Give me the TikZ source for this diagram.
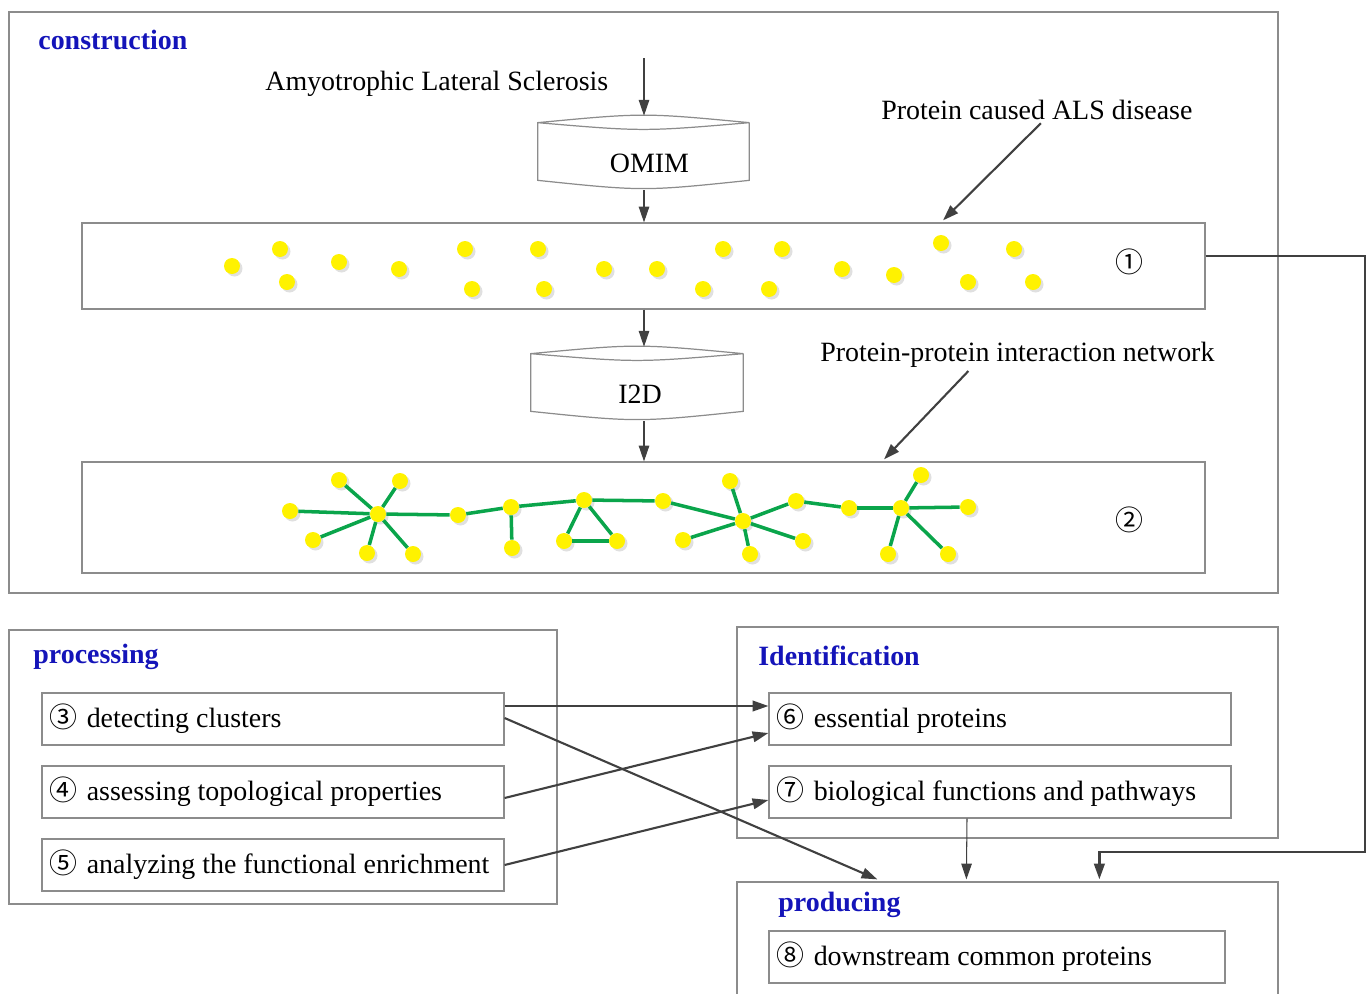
\documentclass[tikz,border=0pt]{standalone}
\usepackage{fontspec}
\setmainfont{Liberation Serif}
\newfontfamily\cjkfont{Noto Sans CJK SC}
\usepackage{tikz}
\usetikzlibrary{positioning,calc,fit,shadows,arrows.meta}

\definecolor{framegray}{RGB}{140,140,140}
\definecolor{arrowgray}{RGB}{64,64,64}
\definecolor{titleblue}{RGB}{20,20,185}
\definecolor{edgegreen}{RGB}{10,165,75}

\newcommand\figfont{\fontsize{15.9}{19}\selectfont}
\newcommand\cnum[1]{\spaceskip=0pt\xspaceskip=0pt{\cjkfont #1}\hspace{0.35em}}
% database drum drawn round an empty node
\newcommand\drawdrum[1]{%
  \draw[frame] ($(#1.north west)+(0,7)$) .. controls ($(#1.north)+(0,-3)$) .. ($(#1.north east)+(0,7)$)
    .. controls ($(#1.north)+(0,16)$) .. ($(#1.north west)+(0,7)$)
    -- ($(#1.south west)+(0,-10)$) .. controls ($(#1.south)+(0,1)$) .. ($(#1.south east)+(0,-10)$)
    -- ($(#1.north east)+(0,7)$);}

\begin{document}
\begin{tikzpicture}[x=0.02cm, y=-0.02cm, font=\figfont,
    frame/.style={draw=framegray, line width=0.7pt},
    panel/.style={frame, inner sep=0pt},
    title/.style={anchor=west, inner sep=0pt, text=titleblue, font=\figfont\bfseries},
    note/.style={anchor=west, inner sep=0pt},
    cjk/.style={font=\figfont\cjkfont},
    drum/.style={minimum width=4.22cm, minimum height=1.48cm, inner sep=0pt},
    stepbox/.style={frame, text width=8.96cm, inner xsep=0.14cm, minimum height=1.04cm, align=left},
    dot/.style={circle, fill=yellow, inner sep=0pt, minimum size=0.32cm,
      drop shadow={shadow xshift=0.05cm, shadow yshift=-0.05cm, fill=black!12, opacity=1}},
    link/.style={draw=edgegreen, line width=2pt},
    flow/.style={draw=arrowgray, line width=0.6pt, -{Triangle[length=9pt,width=6pt]}},
    thickflow/.style={flow, line width=1.2pt},
    bigflow/.style={flow, line width=1.5pt}]
  \useasboundingbox (0,0) rectangle (1370,994);

  % panels
  \node[panel, fit={(9,12) (1278,593)}] (cons) {};
  \node[panel, fit={(9,630) (557,904)}] (proc) {};
  \node[panel, fit={(737,627) (1278,838)}] (ident) {};
  \node[panel, fit={(737,882) (1278,1010)}] (prod) {};

  \node[title] (tcons) at (38,40) {construction};
  \node[title] (tproc) at (33,657) {processing};
  \node[title] (tident) at (758,656) {Identification};
  \node[title] (tprod) at (778,905) {producing};

  % construction
  \node[note] (alsname) at (265,84) {Amyotrophic Lateral Sclerosis};
  \node[note] (alsnote) at (881,110) {Protein caused ALS disease};
  \node[note] (ppinote) at (820,355) {Protein-protein interaction network};

  \node[drum] (omim) at (643.5,153) {};
  \node (omimtext) at ($(omim.center)+(6,10)$) {OMIM};
  \drawdrum{omim}
  \node[drum, minimum width=4.24cm] (i2d) at (637,384) {};
  \node (i2dtext) at ($(i2d.center)+(3,10)$) {I2D};
  \drawdrum{i2d}

  \node[panel, fit={(82,223) (1205,309)}] (band1) {};
  \node[panel, fit={(82,462) (1205,573)}] (band2) {};
  \node[cjk] (mark1) at (1129,262) {①};
  \node[cjk] (mark2) at (1129,520) {②};

  \foreach \x/\y [count=\i] in {232/266, 280/249, 287/282, 339/262, 399/269, 465/249,
      472/289, 538/249, 544/289, 604/269, 657/269, 723/249, 703/289, 782/249, 769/289,
      842/269, 894/275, 941/243, 968/282, 1014/249, 1033/282}
    \node[dot] (p\i) at (\x,\y) {};

  \foreach \x/\y [count=\i] in {378/514, 290/511, 339/480, 400/481, 313/540, 367/553,
      413/554, 458/515, 511/507, 512/548, 584/500, 564/541, 617/541, 663/501, 743/521,
      730/481, 683/540, 750/554, 803/541, 796/501, 849/508, 901/508, 921/475, 968/507,
      888/554, 948/554}
    \node[dot] (n\i) at (\x,\y) {};
  \foreach \a/\b in {1/2, 1/3, 1/4, 1/5, 1/6, 1/7, 1/8, 8/9, 9/10, 9/11, 11/12, 11/13,
      12/13, 11/14, 14/15, 15/16, 15/17, 15/18, 15/19, 15/20, 20/21, 21/22, 22/23, 22/24,
      22/25, 22/26}
    \draw[link] (n\a) -- (n\b);

  \coordinate (top) at (644,58);
  \draw[flow] (top) -- (top |- omim.north);
  \draw[flow] (omim.south -| top) -- (band1.north -| top);
  \draw[flow] (band1.south -| top) -- (i2d.north -| top);
  \draw[flow] (i2d.south -| top) -- (band2.north -| top);
  \draw[thickflow] ($(alsnote.south)+(4,3)$) -- ($(band1.north)+(299.5,-2)$);
  \draw[thickflow] ($(ppinote.south)+(-49,3)$) -- ($(band2.north)+(240.5,-2)$);

  % processing, identification, producing
  \node[stepbox] (clusters) at (273,719) {\cnum{③}detecting clusters};
  \node[stepbox] (topo) at (273,792) {\cnum{④}assessing topological properties};
  \node[stepbox] (enrich) at (273,865) {\cnum{⑤}analyzing the functional enrichment};
  \node[stepbox] (essential) at (1000,719) {\cnum{⑥}essential proteins};
  \node[stepbox] (pathway) at (1000,792) {\cnum{⑦}biological functions and pathways};
  \node[stepbox, text width=8.84cm] (common) at (997,957) {\cnum{⑧}downstream common proteins};

  \draw[thickflow] ($(clusters.east)+(0,-13)$) -- ($(essential.west)+(0,-13)$);
  \draw[thickflow] ($(clusters.east)+(0,-1)$) -- ($(prod.north west)+(141,-2)$);
  \draw[thickflow] ($(topo.east)+(0,6)$) -- ($(essential.west)+(0,14)$);
  \draw[thickflow] (enrich.east) -- ($(pathway.west)+(0,8)$);
  \draw[flow] ($(pathway.south)+(-33,0)$) -- ($(prod.north west)+(230,-2)$);

  \coordinate (bend) at (1365,852);
  \draw[bigflow] ($(band1.east)+(0,-10)$) -| (bend) -| ($(prod.north west)+(363,-2)$);
\end{tikzpicture}
\end{document}
